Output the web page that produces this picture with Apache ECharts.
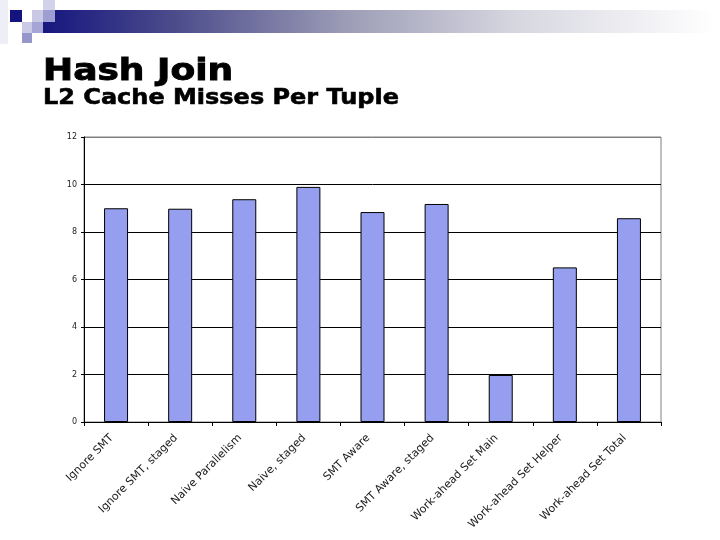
<!DOCTYPE html>
<html>
<head>
<meta charset="utf-8">
<script src="https://cdn.jsdelivr.net/npm/echarts@6/dist/echarts.min.js"></script>
<style>html,body{margin:0;padding:0;background:#fff}#c{width:720px;height:540px}</style>
</head>
<body>
<div id="c"></div>
<script>
var categories = ['Ignore SMT', 'Ignore SMT, staged', 'Naive Parallelism', 'Naive, staged', 'SMT Aware', 'SMT Aware, staged', 'Work-ahead Set Main', 'Work-ahead Set Helper', 'Work-ahead Set Total'];
var missesPerTuple = [9.0, 8.98, 9.38, 9.9, 8.84, 9.18, 1.98, 6.51, 8.58];
var yTicks = [0, 2, 4, 6, 8, 10, 12];
var titleText = 'Hash Join';
var subtitleText = 'L2 Cache Misses Per Tuple';

var chart = echarts.init(document.getElementById('c'), null, {renderer: 'canvas'});
var splitColors = yTicks.map(function (v, i) { return i === yTicks.length - 1 ? '#808080' : '#000000'; });

chart.setOption({
  animation: false,
  backgroundColor: '#ffffff',
  graphic: [
    {type: 'rect', shape: {x: 0, y: 0, width: 8, height: 44}, style: {fill: '#eeeef7'}, silent: true},
    {type: 'rect', shape: {x: 43, y: 10, width: 672, height: 23}, style: {fill: new echarts.graphic.LinearGradient(0, 0, 1, 0, [
      {offset: 0, color: '#16167f'}, {offset: 0.2, color: '#4d4d8c'}, {offset: 0.45, color: '#9c9cb6'},
      {offset: 0.7, color: '#d6d6e0'}, {offset: 1, color: '#ffffff'}])}, silent: true},
    {type: 'rect', shape: {x: 10, y: 10, width: 12, height: 12}, style: {fill: '#141480'}, silent: true},
    {type: 'rect', shape: {x: 32, y: 10, width: 11, height: 12}, style: {fill: '#c9c9e5'}, silent: true},
    {type: 'rect', shape: {x: 43, y: 0, width: 12, height: 10}, style: {fill: '#d2d2eb'}, silent: true},
    {type: 'rect', shape: {x: 43, y: 10, width: 12, height: 12}, style: {fill: '#9e9ed2'}, silent: true},
    {type: 'rect', shape: {x: 22, y: 22, width: 10, height: 11}, style: {fill: '#cacae6'}, silent: true},
    {type: 'rect', shape: {x: 32, y: 22, width: 11, height: 11}, style: {fill: '#a6a6d6'}, silent: true},
    {type: 'rect', shape: {x: 22, y: 33, width: 10, height: 10}, style: {fill: '#9696ca'}, silent: true},
    {type: 'text', x: 43, y: 87, scaleX: 1.2, style: {text: titleText, fontFamily: 'DejaVu Sans', fontWeight: 'bold', fontSize: 30, fill: '#000', stroke: '#000', lineWidth: 0.9, verticalAlign: 'bottom'}, silent: true},
    {type: 'text', x: 43, y: 109, scaleX: 1.09, style: {text: subtitleText, fontFamily: 'DejaVu Sans', fontWeight: 'bold', fontSize: 22, fill: '#000', stroke: '#000', lineWidth: 0.6, verticalAlign: 'bottom'}, silent: true}
  ],
  grid: {left: 84, top: 137, right: 59, bottom: 118, show: true, borderColor: '#808080', borderWidth: 1, backgroundColor: '#ffffff'},
  xAxis: {
    type: 'category',
    data: categories,
    boundaryGap: true,
    axisLine: {show: true, lineStyle: {color: '#000', width: 1}},
    axisTick: {show: true, length: 4, inside: false, alignWithLabel: false, lineStyle: {color: '#000'}},
    axisLabel: {rotate: 45, margin: 10, padding: [0, 6, 0, 0], interval: 0, fontFamily: 'DejaVu Sans', fontSize: 11, color: '#1a1a1a'}
  },
  yAxis: {
    type: 'value',
    min: 0, max: 12, interval: 2,
    axisLine: {show: true, lineStyle: {color: '#000', width: 1}},
    axisTick: {show: true, length: 3, lineStyle: {color: '#000'}},
    axisLabel: {margin: 7, fontFamily: 'DejaVu Sans', fontSize: 8, color: '#222'},
    splitLine: {show: true, lineStyle: {color: splitColors, width: 1}}
  },
  series: [{
    type: 'bar',
    data: missesPerTuple,
    barWidth: 24,
    itemStyle: {color: '#969fef', borderColor: '#000', borderWidth: 1}
  }]
});
</script>
</body>
</html>
